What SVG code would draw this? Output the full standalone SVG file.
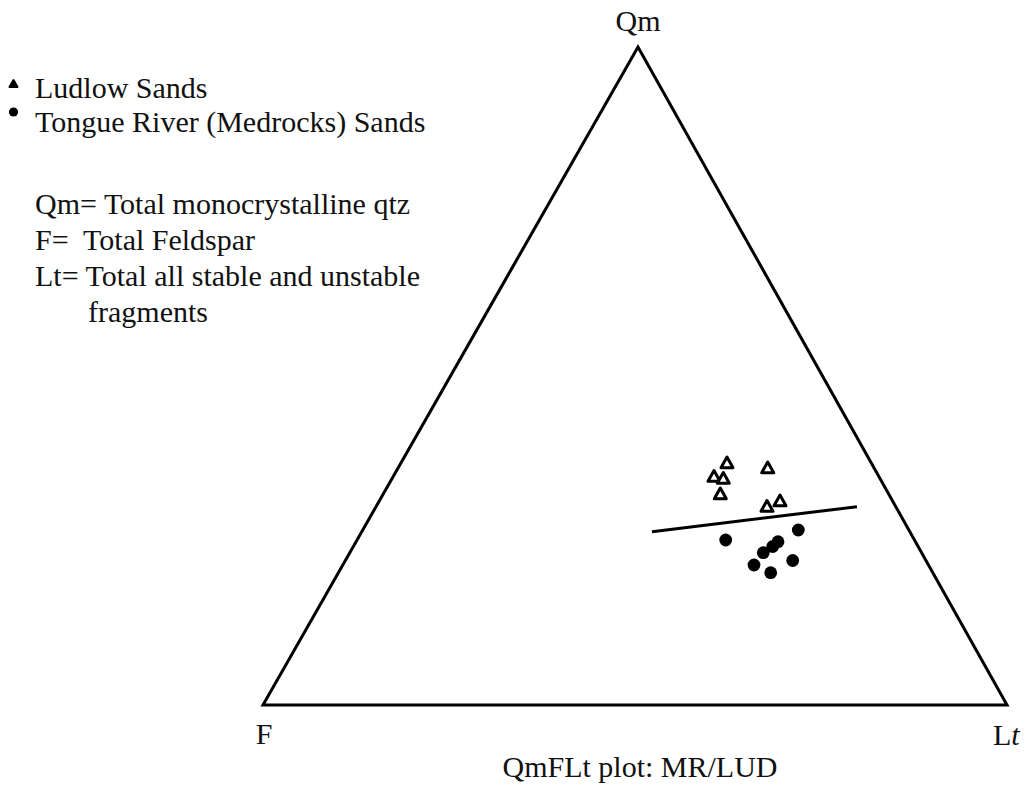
<svg xmlns="http://www.w3.org/2000/svg" width="1025" height="786" viewBox="0 0 1025 786">
<style>
text{font-family:'Liberation Serif',Tinos,'Times New Roman',Times,'DejaVu Serif',serif;fill:#111;}
.lg{font-size:30px;}
.lb{font-size:30px;}
.ax{fill:none;stroke:#000;stroke-width:3;stroke-linejoin:miter;}
.tri{fill:#fff;stroke:#000;stroke-width:3;stroke-linejoin:round;}
.dot{fill:#000;}
</style>
<defs>
<path id="t" class="tri" d="M0,-6 L6,4.8 L-6,4.8 Z"/>
<circle id="c" class="dot" r="6.4"/>
</defs>
<rect width="1025" height="786" fill="#fff"/>
<g id="legend">
<path d="M13.5,80 L17.5,87 L9.5,87 Z" fill="#000" stroke="#000" stroke-width="2" stroke-linejoin="round"/>
<text class="lg" x="35" y="98">Ludlow Sands</text>
<circle cx="13.5" cy="112" r="4.6" fill="#000"/>
<text class="lg" x="35" y="132">Tongue River (Medrocks) Sands</text>
<text class="lg" x="35" y="214" xml:space="preserve">Qm= Total monocrystalline qtz</text>
<text class="lg" x="35" y="250" xml:space="preserve">F=  Total Feldspar</text>
<text class="lg" x="35" y="286" xml:space="preserve">Lt= Total all stable and unstable</text>
<text class="lg" x="88" y="322">fragments</text>
</g>
<g id="axes">
<path class="ax" d="M638,47 L263,705 L1007,705 Z"/>
</g>
<g id="labels">
<text class="lb" x="638" y="31" text-anchor="middle">Qm</text>
<text class="lb" x="264" y="744" text-anchor="middle">F</text>
<text class="lb" x="993" y="745">L<tspan font-style="italic">t</tspan></text>
<text class="lb" x="640" y="777" text-anchor="middle">QmFLt plot: MR/LUD</text>
</g>
<g id="connectors">
<line x1="652" y1="531.7" x2="857" y2="506.7" stroke="#000" stroke-width="3"/>
</g>
<g id="ludlow">
<use href="#t" x="727" y="463"/>
<use href="#t" x="714" y="476.5"/>
<use href="#t" x="723.3" y="478.5"/>
<use href="#t" x="767.7" y="468"/>
<use href="#t" x="720.3" y="494"/>
<use href="#t" x="767" y="506.5"/>
<use href="#t" x="780" y="501"/>
</g>
<g id="tongue-river">
<use href="#c" x="725.7" y="540"/>
<use href="#c" x="798.3" y="530"/>
<use href="#c" x="778" y="541.7"/>
<use href="#c" x="772.7" y="546.5"/>
<use href="#c" x="763.3" y="552.7"/>
<use href="#c" x="792.7" y="560.5"/>
<use href="#c" x="754" y="565"/>
<use href="#c" x="770.7" y="572.7"/>
</g>
</svg>
